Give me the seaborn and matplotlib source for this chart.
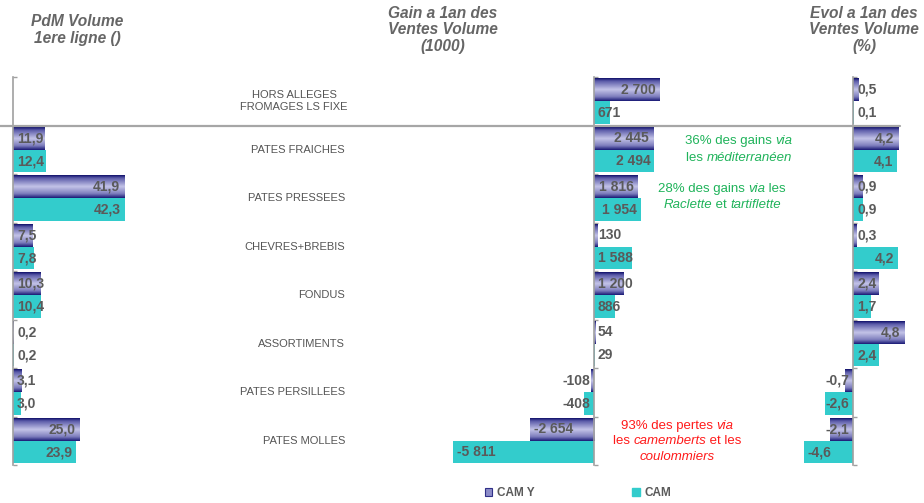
import numpy as np
import pandas as pd
import matplotlib
matplotlib.use("Agg")
import matplotlib.pyplot as plt
import seaborn as sns
from matplotlib import transforms
from matplotlib.colors import LinearSegmentedColormap
from matplotlib.patches import Patch
from matplotlib.lines import Line2D

# ---------------- data ----------------
categories = ["HORS ALLEGES\nFROMAGES LS FIXE", "PATES FRAICHES", "PATES PRESSEES",
              "CHEVRES+BREBIS", "FONDUS", "ASSORTIMENTS", "PATES PERSILLEES", "PATES MOLLES"]
series = ["CAM Y", "CAM"]

pdm_camy = [np.nan, 11.9, 41.9, 7.5, 10.3, 0.2, 3.1, 25.0]
pdm_cam = [np.nan, 12.4, 42.3, 7.8, 10.4, 0.2, 3.0, 23.9]

gain_camy = [2700, 2445, 1816, 130, 1200, 54, -108, -2654]
gain_cam = [671, 2494, 1954, 1588, 886, 29, -408, -5811]

evol_camy = [0.5, 4.2, 0.9, 0.3, 2.4, 4.8, -0.7, -2.1]
evol_cam = [0.1, 4.1, 0.9, 4.2, 1.7, 2.4, -2.6, -4.6]

titles = ["PdM Volume\n1ere ligne ()",
          "Gain a 1an des\nVentes Volume\n(1000)",
          "Evol a 1an des\nVentes Volume\n(%)"]


def long_df(a, b):
    return pd.DataFrame({
        "category": categories * 2,
        "series": [series[0]] * len(categories) + [series[1]] * len(categories),
        "value": list(a) + list(b),
    })


# ---------------- style ----------------
sns.set_theme(style="white")
plt.rcParams["font.family"] = ["Liberation Sans", "DejaVu Sans"]

W, H = 924, 503
TOP, BOT = 77, 465
fig = plt.figure(figsize=(W / 100, H / 100), dpi=100)

GREY = "#5a5a5a"
AXC = "#a0a0a0"
palette = {"CAM Y": "#5c5cab", "CAM": "#33cccc"}
grad = LinearSegmentedColormap.from_list(
    "camy", [(0.0, "#10106a"), (0.12, "#5a5aa8"), (0.5, "#c4c4e8"),
             (0.82, "#7c7cbc"), (1.0, "#1a1a76")])
grad_img = np.linspace(0, 1, 64).reshape(-1, 1)

# panel geometry: (data, xlim, zero pixel, pixel per unit, decimals, title x)
panels = [
    (long_df(pdm_camy, pdm_cam), (0, 70), 13, 2.65, 1, 77),
    (long_df(gain_camy, gain_cam), (-6000, 7000), 594, 0.0242, 0, 443),
    (long_df(evol_camy, evol_cam), (-5, 6), 853, 10.75, 1, 864),
]

axes = []
for df, xlim, zero, scale, dec, tx in panels:
    left = zero + xlim[0] * scale
    right = zero + xlim[1] * scale
    ax = fig.add_axes([left / W, 1 - BOT / H, (right - left) / W, (BOT - TOP) / H])
    sns.barplot(data=df, x="value", y="category", hue="series", order=categories,
                hue_order=series, palette=palette, orient="h", errorbar=None,
                width=0.93, saturation=1, legend=False, ax=ax, linewidth=0)
    # gradient on CAM Y bars
    for p in ax.containers[0]:
        w = p.get_width()
        if not np.isfinite(w) or w == 0:
            continue
        x0, x1 = sorted([p.get_x(), p.get_x() + w])
        y0 = p.get_y()
        ax.imshow(grad_img, cmap=grad, aspect="auto", origin="upper",
                  extent=(x0, x1, y0 + p.get_height(), y0), zorder=p.get_zorder() + 0.1,
                  interpolation="bilinear")
    ax.set_xlim(*xlim)
    ax.set_ylim(len(categories) - 0.5, -0.5)
    ax.set_yticks(np.arange(-0.5, len(categories), 1))
    ax.set_yticklabels([])
    ax.set_xticks([])
    ax.set_xlabel("")
    ax.set_ylabel("")
    for s in ["top", "right", "bottom"]:
        ax.spines[s].set_visible(False)
    ax.spines["left"].set_position(("data", 0))
    ax.spines["left"].set_color(AXC)
    ax.spines["left"].set_linewidth(1.2)
    ax.tick_params(axis="y", direction="in", length=3, color=AXC, width=1, left=True)
    ax.patch.set_alpha(0)
    ax.grid(False)
    axes.append(ax)
    fig.text(tx / W, 1 - 30 / H, titles[len(axes) - 1], ha="center", va="center",
             fontsize=11.2, fontweight="bold", style="italic", color="#666666",
             linespacing=1.1)

# category labels
ytrans = transforms.blended_transform_factory(fig.transFigure, axes[0].transData)
for i, c in enumerate(categories):
    if "\n" in c:
        fig.text(294 / W, i, c, ha="center", va="center", transform=ytrans,
                 fontsize=8, color="#555555", linespacing=1.2)
    else:
        fig.text(345 / W, i, c, ha="right", va="center", transform=ytrans,
                 fontsize=8, color="#555555")

# separator line
fig.add_artist(Line2D([0, 900 / W], [1 - 125.5 / H] * 2, color="#a6a6a6", lw=1.6,
                      transform=fig.transFigure))


def fmt(v, dec):
    if dec:
        return f"{v:.1f}".replace(".", ",")
    return f"{int(round(v)):,}".replace(",", " ")


fig.canvas.draw()
renderer = fig.canvas.get_renderer()
PAD = 4
for ax, (df, xlim, zero, scale, dec, tx) in zip(axes, panels):
    for cont in ax.containers:
        for p in cont:
            w = p.get_width()
            if not np.isfinite(w):
                continue
            yc = p.get_y() + p.get_height() / 2
            s = fmt(w, dec)
            e = ax.transData.transform((w, yc))[0]
            b = ax.transData.transform((0, yc))[0]
            bar_px = abs(e - b)
            tmp = ax.text(0, 0, s, fontsize=10, fontweight="bold")
            tw = tmp.get_window_extent(renderer).width
            tmp.remove()
            pos = w >= 0
            if bar_px >= tw + 2 * PAD:
                xx = w
                ha = "right" if pos else "left"
                dx = -PAD if pos else PAD
            else:
                xx = 0
                ha = "left" if pos else "right"
                dx = PAD if pos else -PAD
            tr = transforms.offset_copy(ax.transData, fig=fig, x=dx, y=0, units="dots")
            ax.text(xx, yc, s, ha=ha, va="center", transform=tr, fontsize=10,
                    fontweight="bold", color=GREY, clip_on=False, zorder=5)


# rich-text annotations
def piece_width(txt, style, size):
    t1 = fig.text(0, 0, "|" + txt + "|", style=style, fontsize=size)
    t2 = fig.text(0, 0, "||", style=style, fontsize=size)
    wv = t1.get_window_extent(renderer).width - t2.get_window_extent(renderer).width
    t1.remove()
    t2.remove()
    return wv


def rich_line(pieces, cx, cy, color, size=9.5):
    widths = [piece_width(t, st, size) for t, st in pieces]
    x = cx - sum(widths) / 2
    for (t, st), wv in zip(pieces, widths):
        fig.text(x / W, 1 - (cy + 4) / H, t, style=st, fontsize=size, color=color,
                 ha="left", va="baseline")
        x += wv


GREEN = "#1fb35a"
RED = "#ff1a1a"
N, I = "normal", "italic"
rich_line([("36% des gains ", N), ("via", I)], 739, 140, GREEN)
rich_line([("les ", N), ("méditerranéen", I)], 739, 157, GREEN)
rich_line([("28% des gains ", N), ("via", I), (" les", N)], 722, 188, GREEN)
rich_line([("Raclette", I), (" et ", N), ("tartiflette", I)], 722, 204, GREEN)
rich_line([("93% des pertes ", N), ("via", I)], 677, 425, RED)
rich_line([("les ", N), ("camemberts", I), (" et les", N)], 677, 440, RED)
rich_line([("coulommiers", I)], 677, 456, RED)

# legend
handles = [Patch(facecolor="#8c8cc8", edgecolor="#303088", lw=0.8, label="CAM Y"),
           Patch(facecolor="#33cccc", edgecolor="#33cccc", label="CAM")]
fig.legend(handles=handles, loc="center", bbox_to_anchor=(578 / W, 1 - 493 / H), ncol=2,
           frameon=False, prop={"weight": "bold", "size": 8.5}, labelcolor=GREY,
           handlelength=0.6, handleheight=0.6, handletextpad=0.4, columnspacing=8.3)

fig.savefig("out.png", dpi=100)
